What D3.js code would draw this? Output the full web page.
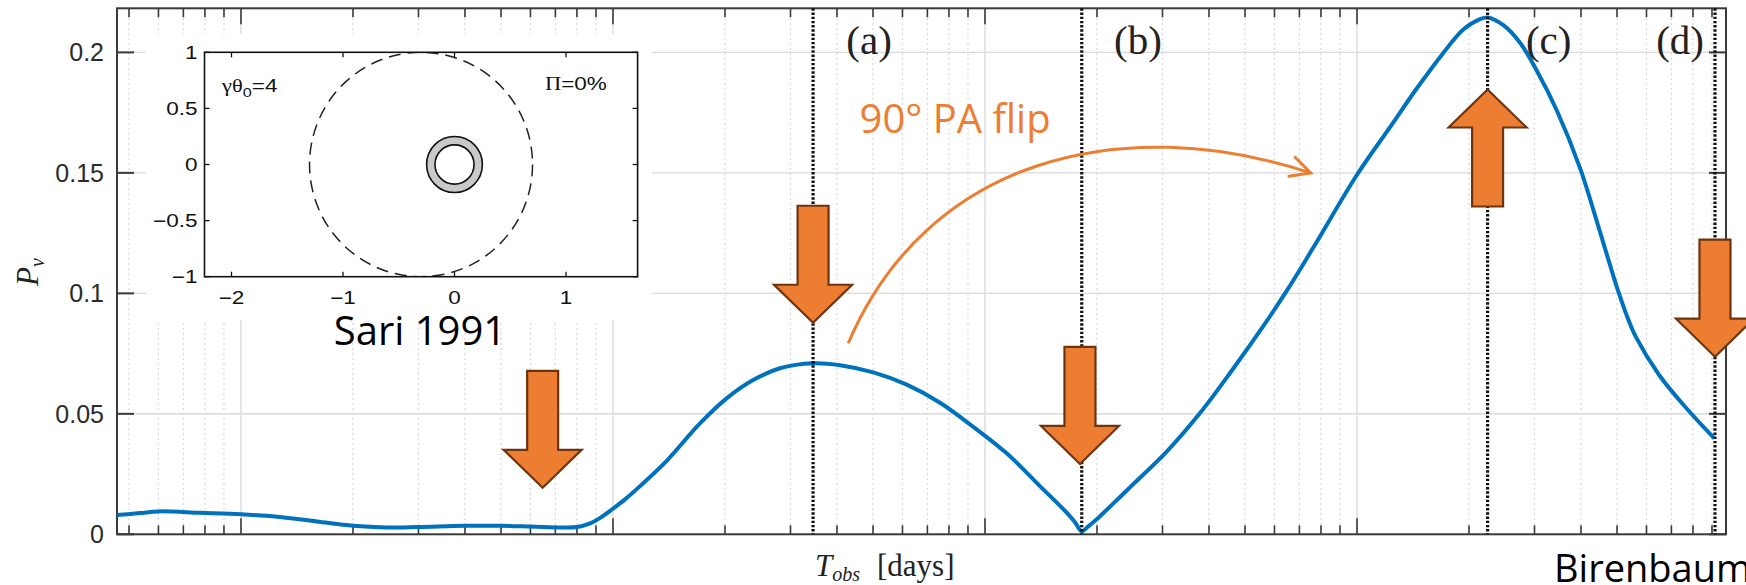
<!DOCTYPE html>
<html>
<head>
<meta charset="utf-8">
<script src="https://cdn.jsdelivr.net/npm/d3@7"></script>
<style>
  body { margin: 0; background: #fff; }
  svg { display: block; }
</style>
</head>
<body>
<svg id="chart" width="1746" height="585"></svg>
<script>
// curve: observer time (days) vs polarisation
var tObs = [0.465, 0.535, 0.60, 0.78, 1.0, 1.25, 1.6, 2.0, 2.46, 3.0, 4.0, 5.0, 6.0, 7.35, 8.0, 8.68,
  9.23, 9.97, 10.77, 11.82, 13.94, 17.13, 20.2, 23.8, 28.1, 34.5, 40.8, 50.1, 61.6, 75.7, 93.0, 114.4,
  140.5, 165.8, 174.6, 181.9, 189.2, 195.5, 203.8, 230.7, 250.4, 307.9, 378.4, 465, 549, 647, 763,
  998, 1227, 1447, 1706, 1931, 2141, 2244, 2474, 2743, 3041, 3442, 3977, 4500, 4787, 5021, 5319,
  5623, 6495, 7661, 9131];
var pNu = [0.0080, 0.0088, 0.0095, 0.0089, 0.0083, 0.0073, 0.0053, 0.0035, 0.0028, 0.0030, 0.0035, 0.0035, 0.0032, 0.0028, 0.0030, 0.0045,
  0.0068, 0.0105, 0.0145, 0.0200, 0.0305, 0.0460, 0.0564, 0.0640, 0.0689, 0.0710, 0.0702, 0.0672, 0.0621, 0.0546, 0.0446, 0.0336,
  0.0200, 0.0090, 0.0050, 0.0013, 0.0032, 0.0050, 0.0075, 0.0155, 0.0208, 0.0343, 0.0503, 0.0688, 0.0845, 0.1010, 0.1190,
  0.1490, 0.1690, 0.1850, 0.1998, 0.2095, 0.2138, 0.2145, 0.2113, 0.2040, 0.1925, 0.1760, 0.1520, 0.1255, 0.1118, 0.1015, 0.0905,
  0.0818, 0.0660, 0.0525, 0.0398];

var xDomain = [0.4642, 9815];
var yDomain = [0, 0.2183];
var yTicks = [0, 0.05, 0.1, 0.15, 0.2];
var yTickLabels = ['0', '0.05', '0.1', '0.15', '0.2'];
var majorT = [1, 10, 100, 1000];

// dotted marker lines and their labels
var markerT = [34.5, 182, 2244, 9168];
var markerLabels = ['(a)', '(b)', '(c)', '(d)'];
var markerLabelT = [48.8, 257.8, 3276, 7385];
var markerLabelP = 0.1993;

// block arrows (tip position)
var arrowT = [6.47, 34.5, 180, 2244, 9168];
var arrowP = [0.0193, 0.0878, 0.0292, 0.1846, 0.0737];
var arrowDir = ['down', 'down', 'down', 'up', 'down'];

// curved "PA flip" arrow: start, control, control, end
var flipT = [42.9, 69.6, 231.6, 750.7];
var flipP = [0.0793, 0.1556, 0.1759, 0.150];
var flipText = '90° PA flip';
var flipTextT = 83.1, flipTextP = 0.1665;

// inset (Sari 1991)
var insetXDomain = [-2.242, 1.642];
var insetYDomain = [-1, 1];
var insetXTicks = [-2, -1, 0, 1];
var insetXLabels = ['−2', '−1', '0', '1'];
var insetYTicks = [-1, -0.5, 0, 0.5, 1];
var insetYLabels = ['−1', '−0.5', '0', '0.5', '1'];
var sphereCenter = [-0.3, 0], sphereRadius = 1;
var ringCenter = [0, 0], ringOuter = 0.25, ringInner = 0.175;

var orange = '#ED7D31', brown = '#6e3410', blue = '#0072BD', axisCol = '#3a3a3a';

var svg = d3.select('#chart');
svg.append('rect').attr('width', 1746).attr('height', 585).attr('fill', '#fff');

var x = d3.scaleLog().domain(xDomain).range([117, 1726]);
var y = d3.scaleLinear().domain(yDomain).range([534.3, 8.3]);

// all log ticks
var minorT = [];
[-1, 0, 1, 2, 3].forEach(function (n) {
  for (var k = 2; k <= 9; k++) {
    var v = k * Math.pow(10, n);
    if (v > xDomain[0] && v < xDomain[1]) minorT.push(v);
  }
});

// grid
var grid = svg.append('g');
grid.selectAll('.minor').data(minorT).enter().append('line')
  .attr('x1', x).attr('x2', x).attr('y1', y(yDomain[1])).attr('y2', y(0))
  .attr('stroke', '#cfcfcf').attr('stroke-width', 1.3).attr('stroke-dasharray', '1.5,3.5');
grid.selectAll('.major').data(majorT).enter().append('line')
  .attr('x1', x).attr('x2', x).attr('y1', y(yDomain[1])).attr('y2', y(0))
  .attr('stroke', '#dadada').attr('stroke-width', 1.4);
grid.selectAll('.hgrid').data(yTicks.slice(1)).enter().append('line')
  .attr('x1', x(xDomain[0])).attr('x2', x(xDomain[1])).attr('y1', y).attr('y2', y)
  .attr('stroke', '#dadada').attr('stroke-width', 1.4);

// white patch the inset sits on
svg.append('rect').attr('x', 146).attr('y', 34).attr('width', 506).attr('height', 286).attr('fill', '#fff');

// inset
var ix = d3.scaleLinear().domain(insetXDomain).range([204.5, 637.6]);
var iy = d3.scaleLinear().domain(insetYDomain).range([276.7, 52.3]);
var inset = svg.append('g');
inset.append('clipPath').attr('id', 'insetClip').append('rect')
  .attr('x', ix(insetXDomain[0])).attr('y', iy(1))
  .attr('width', ix(insetXDomain[1]) - ix(insetXDomain[0])).attr('height', iy(-1) - iy(1));
inset.append('ellipse')
  .attr('cx', ix(sphereCenter[0])).attr('cy', iy(sphereCenter[1]))
  .attr('rx', ix(sphereCenter[0] + sphereRadius) - ix(sphereCenter[0]))
  .attr('ry', iy(sphereCenter[1]) - iy(sphereCenter[1] + sphereRadius))
  .attr('fill', 'none').attr('stroke', '#222').attr('stroke-width', 1.5)
  .attr('stroke-dasharray', '12,7').attr('clip-path', 'url(#insetClip)');
var ringPath = function (r) {
  var rx = ix(ringCenter[0] + r) - ix(ringCenter[0]), ry = iy(ringCenter[1]) - iy(ringCenter[1] + r);
  var cx = ix(ringCenter[0]), cy = iy(ringCenter[1]);
  return 'M' + (cx - rx) + ',' + cy + 'a' + rx + ',' + ry + ' 0 1,0 ' + (2 * rx) + ',0a' + rx + ',' + ry + ' 0 1,0 ' + (-2 * rx) + ',0Z';
};
inset.append('path').attr('d', ringPath(ringOuter) + ringPath(ringInner))
  .attr('fill', '#c9c9c9').attr('fill-rule', 'evenodd').attr('stroke', '#111').attr('stroke-width', 1.6);
inset.append('rect')
  .attr('x', ix(insetXDomain[0])).attr('y', iy(1))
  .attr('width', ix(insetXDomain[1]) - ix(insetXDomain[0])).attr('height', iy(-1) - iy(1))
  .attr('fill', 'none').attr('stroke', '#111').attr('stroke-width', 1.6);
insetXTicks.forEach(function (v, i) {
  inset.append('line').attr('x1', ix(v)).attr('x2', ix(v)).attr('y1', iy(-1)).attr('y2', iy(-1) - 5)
    .attr('stroke', '#111').attr('stroke-width', 1.3);
  inset.append('line').attr('x1', ix(v)).attr('x2', ix(v)).attr('y1', iy(1)).attr('y2', iy(1) + 5)
    .attr('stroke', '#111').attr('stroke-width', 1.3);
  inset.append('g').attr('transform', 'translate(' + ix(v) + ',' + (iy(-1) + 27) + ') scale(1.25,1)')
    .append('text').attr('text-anchor', 'middle')
    .style('font-family', 'Liberation Sans, Arial, sans-serif').style('font-size', '18px').attr('fill', '#111')
    .text(insetXLabels[i]);
});
insetYTicks.forEach(function (v, i) {
  inset.append('line').attr('x1', ix(insetXDomain[0])).attr('x2', ix(insetXDomain[0]) + 5).attr('y1', iy(v)).attr('y2', iy(v))
    .attr('stroke', '#111').attr('stroke-width', 1.3);
  inset.append('line').attr('x1', ix(insetXDomain[1])).attr('x2', ix(insetXDomain[1]) - 5).attr('y1', iy(v)).attr('y2', iy(v))
    .attr('stroke', '#111').attr('stroke-width', 1.3);
  inset.append('g').attr('transform', 'translate(' + (ix(insetXDomain[0]) - 7) + ',' + iy(v) + ') scale(1.25,1)')
    .append('text').attr('text-anchor', 'end').attr('dy', '0.36em')
    .style('font-family', 'Liberation Sans, Arial, sans-serif').style('font-size', '18px').attr('fill', '#111')
    .text(insetYLabels[i]);
});
var gText = inset.append('g').attr('transform', 'translate(222,92) scale(1.25,1)')
  .append('text').style('font-family', 'Liberation Sans, Arial, sans-serif').style('font-size', '18px').attr('fill', '#111');
gText.append('tspan').style('font-family', 'Liberation Serif, serif').text('γθ');
gText.append('tspan').attr('dy', 5).style('font-size', '13px').text('0');
gText.append('tspan').attr('dy', -5).text('=4');
var pText = inset.append('g').attr('transform', 'translate(545,90) scale(1.25,1)')
  .append('text').style('font-family', 'Liberation Sans, Arial, sans-serif').style('font-size', '18px').attr('fill', '#111');
pText.append('tspan').style('font-family', 'Liberation Serif, serif').text('Π');
pText.append('tspan').text('=0%');

// axes frame and ticks
var ax = svg.append('g').attr('stroke', axisCol).attr('stroke-width', 2).attr('fill', 'none');
ax.append('rect').attr('x', x(xDomain[0])).attr('y', y(yDomain[1]))
  .attr('width', x(xDomain[1]) - x(xDomain[0])).attr('height', y(0) - y(yDomain[1]));
var xTickList = majorT.map(function (v) { return { v: v, len: 16 }; })
  .concat(minorT.map(function (v) { return { v: v, len: 9 }; }));
xTickList.forEach(function (d) {
  ax.append('line').attr('x1', x(d.v)).attr('x2', x(d.v)).attr('y1', y(0)).attr('y2', y(0) - d.len).attr('stroke-width', 1.6);
  ax.append('line').attr('x1', x(d.v)).attr('x2', x(d.v)).attr('y1', y(yDomain[1])).attr('y2', y(yDomain[1]) + d.len).attr('stroke-width', 1.6);
});
yTicks.forEach(function (v, i) {
  ax.append('line').attr('x1', x(xDomain[0])).attr('x2', x(xDomain[0]) + 17).attr('y1', y(v)).attr('y2', y(v));
  ax.append('line').attr('x1', x(xDomain[1])).attr('x2', x(xDomain[1]) - 17).attr('y1', y(v)).attr('y2', y(v));
  svg.append('text').attr('x', 104).attr('y', y(v)).attr('dy', '0.36em').attr('text-anchor', 'end')
    .style('font-family', 'Liberation Sans, Arial, sans-serif').style('font-size', '25px').attr('fill', '#2b2b2b')
    .text(yTickLabels[i]);
});

// curve
var line = d3.line().x(function (d) { return x(d[0]); }).y(function (d) { return y(d[1]); })
  .curve(d3.curveCatmullRom.alpha(0.5));
svg.append('path').datum(d3.zip(tObs, pNu)).attr('d', line)
  .attr('fill', 'none').attr('stroke', blue).attr('stroke-width', 4).attr('stroke-linejoin', 'round');

// dotted markers
svg.selectAll('.marker').data(markerT).enter().append('line')
  .attr('x1', x).attr('x2', x).attr('y1', y(yDomain[1])).attr('y2', y(0))
  .attr('stroke', '#111').attr('stroke-width', 3.2).attr('stroke-dasharray', '2.4,1.8');
svg.selectAll('.mlabel').data(markerLabels).enter().append('text')
  .attr('x', function (d, i) { return x(markerLabelT[i]); }).attr('y', y(markerLabelP))
  .attr('text-anchor', 'middle')
  .style('font-family', 'Liberation Serif, Times New Roman, serif').style('font-size', '41px').attr('fill', '#222')
  .text(function (d) { return d; });

// block arrows
var arrowShape = function (dir) {
  var s = dir === 'down' ? 1 : -1;
  var pts = [[-15.5, -117], [15.5, -117], [15.5, -38], [39, -38], [0, 0], [-39, -38], [-15.5, -38]];
  return 'M' + pts.map(function (p) { return p[0] + ',' + (p[1] * s); }).join('L') + 'Z';
};
arrowT.forEach(function (t, i) {
  svg.append('path').attr('d', arrowShape(arrowDir[i]))
    .attr('transform', 'translate(' + x(t) + ',' + y(arrowP[i]) + ')')
    .attr('fill', orange).attr('stroke', brown).attr('stroke-width', 2.2).attr('stroke-linejoin', 'miter');
});

// curved flip arrow
var fp = flipT.map(function (t, i) { return [x(t), y(flipP[i])]; });
svg.append('path')
  .attr('d', 'M' + fp[0] + 'C' + fp[1] + ' ' + fp[2] + ' ' + fp[3])
  .attr('fill', 'none').attr('stroke', orange).attr('stroke-width', 3);
var ang = Math.atan2(fp[3][1] - fp[2][1], fp[3][0] - fp[2][0]);
var head = [ang + Math.PI - 0.47, ang + Math.PI + 0.47].map(function (a) {
  return [fp[3][0] + 22 * Math.cos(a), fp[3][1] + 22 * Math.sin(a)];
});
svg.append('path').attr('d', 'M' + head[0] + 'L' + fp[3] + 'L' + head[1])
  .attr('fill', 'none').attr('stroke', orange).attr('stroke-width', 3).attr('stroke-linecap', 'round');
svg.append('text').attr('x', x(flipTextT)).attr('y', y(flipTextP)).attr('text-anchor', 'middle')
  .style('font-family', 'Open Sans, sans-serif').style('font-size', '40px').attr('fill', orange)
  .text(flipText);

// axis labels
var xl = svg.append('text').attr('x', 815).attr('y', 576)
  .style('font-family', 'Liberation Serif, Times New Roman, serif').style('font-size', '31px').attr('fill', '#222');
xl.append('tspan').style('font-style', 'italic').text('T');
xl.append('tspan').attr('dy', 5).style('font-style', 'italic').style('font-size', '20px').text('obs');
xl.append('tspan').attr('x', 877).attr('dy', -5).text('[days]');

var yl = svg.append('text').attr('transform', 'translate(38,272) rotate(-90)').attr('text-anchor', 'middle')
  .style('font-family', 'Liberation Serif, Times New Roman, serif').style('font-size', '31px').attr('fill', '#222');
yl.append('tspan').style('font-style', 'italic').text('P');
yl.append('tspan').attr('dy', 6).style('font-style', 'italic').style('font-size', '20px').text('ν');

// slide captions
svg.append('text').attr('x', 420).attr('y', 345).attr('text-anchor', 'middle')
  .style('font-family', 'Open Sans, sans-serif').style('font-size', '40px').attr('fill', '#000')
  .text('Sari 1991');
svg.append('text').attr('x', 1554).attr('y', 582)
  .style('font-family', 'Open Sans, sans-serif').style('font-size', '38px').attr('fill', '#000')
  .text('Birenbaum');
</script>
</body>
</html>
